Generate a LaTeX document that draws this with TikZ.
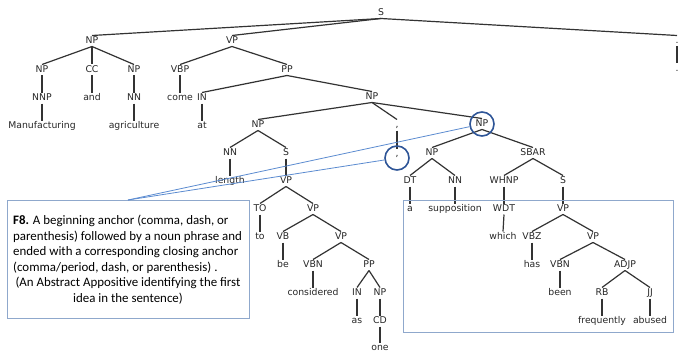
\documentclass[tikz,border=0pt]{standalone}
\usepackage{fontspec}
\setmainfont{Carlito}
\newfontfamily\treefont{DejaVu Sans}
\definecolor{edgegrey}{HTML}{333333}
\definecolor{circblue}{HTML}{2E5597}
\definecolor{lineblue}{HTML}{5B8BD0}
\definecolor{boxblue}{HTML}{8FA8CC}
\begin{document}
\begin{tikzpicture}[x=1pt,y=-1pt,
  tl/.style={font=\treefont\fontsize{9.3pt}{10pt}\selectfont, inner sep=0.8pt, text height=7pt, text depth=2pt, text=black!85},
  tedge/.style={draw=edgegrey, line width=1.2pt},
  hl/.style={draw=circblue, line width=1.6pt, circle, minimum size=24pt, inner sep=0pt},
  hlline/.style={draw=lineblue, line width=0.8pt},
  fbox/.style={draw=boxblue, line width=0.9pt, inner sep=0pt}]
\useasboundingbox (0,0) rectangle (680,353);
% tree labels
\node[tl] (S) at (381,13) {S};
\node[tl] (NP1) at (92,41) {NP};
\node[tl] (VP1) at (232,41) {VP};
\node[tl] (dotL) at (677,41) {.};
\node[tl] (dotW) at (677,69) {.};
\node[tl] (NP2) at (42,70) {NP};
\node[tl] (CC) at (92,70) {CC};
\node[tl] (NP3) at (134,70) {NP};
\node[tl] (NNP) at (42,98) {NNP};
\node[tl] (wManu) at (42,126) {Manufacturing};
\node[tl] (wand) at (92,98) {and};
\node[tl] (NN1) at (134,98) {NN};
\node[tl] (wagri) at (134,126) {agriculture};
\node[tl] (VBP) at (180,70) {VBP};
\node[tl] (wcome) at (180,98) {come};
\node[tl] (PP1) at (287,70) {PP};
\node[tl] (IN1) at (202,98) {IN};
\node[tl] (wat) at (202,126) {at};
\node[tl] (NP4) at (372,97) {NP};
\node[tl] (NP5) at (258,125) {NP};
\node[tl] (commaL) at (397,125) {,};
\node[tl] (NP6) at (482,124) {NP};
\node[tl] (commaW) at (397,154) {,};
\node[tl] (NN2) at (230,153) {NN};
\node[tl] (wlength) at (230,181) {length};
\node[tl] (S2) at (286,153) {S};
\node[tl] (VP2) at (286,181) {VP};
\node[tl] (TO) at (260,209) {TO};
\node[tl] (wto) at (260,237) {to};
\node[tl] (VP3) at (313,209) {VP};
\node[tl] (VB) at (283,237) {VB};
\node[tl] (wbe) at (283,265) {be};
\node[tl] (VP4) at (341,237) {VP};
\node[tl] (VBN1) at (313,265) {VBN};
\node[tl] (wcons) at (313,293) {considered};
\node[tl] (PP2) at (369,265) {PP};
\node[tl] (IN2) at (357,293) {IN};
\node[tl] (was) at (357,321) {as};
\node[tl] (NP7) at (380,293) {NP};
\node[tl] (CD) at (380,321) {CD};
\node[tl] (wone) at (380,348) {one};
\node[tl] (NP8) at (432,153) {NP};
\node[tl] (DT) at (410,181) {DT};
\node[tl] (wa) at (410,209) {a};
\node[tl] (NN3) at (455,181) {NN};
\node[tl] (wsupp) at (455,209) {supposition};
\node[tl] (SBAR) at (533,153) {SBAR};
\node[tl] (WHNP) at (504,181) {WHNP};
\node[tl] (WDT) at (504,209) {WDT};
\node[tl] (wwhich) at (503,237) {which};
\node[tl] (S3) at (563,181) {S};
\node[tl] (VP5) at (563,209) {VP};
\node[tl] (VBZ) at (532,237) {VBZ};
\node[tl] (whas) at (532,265) {has};
\node[tl] (VP6) at (593,237) {VP};
\node[tl] (VBN2) at (560,265) {VBN};
\node[tl] (wbeen) at (560,293) {been};
\node[tl] (ADJP) at (625,265) {ADJP};
\node[tl] (RB) at (602,293) {RB};
\node[tl] (wfreq) at (602,321) {frequently};
\node[tl] (JJ) at (650,293) {JJ};
\node[tl] (wabused) at (650,321) {abused};
% tree edges
\foreach \a/\b in {S/NP1,S/VP1,S/dotL,dotL/dotW,NP1/NP2,NP1/CC,NP1/NP3,NP2/NNP,NNP/wManu,CC/wand,
  NP3/NN1,NN1/wagri,VP1/VBP,VBP/wcome,VP1/PP1,PP1/IN1,IN1/wat,PP1/NP4,NP4/NP5,NP4/commaL,NP4/NP6,
  commaL/commaW,NP5/NN2,NN2/wlength,NP5/S2,S2/VP2,VP2/TO,TO/wto,VP2/VP3,VP3/VB,VB/wbe,VP3/VP4,
  VP4/VBN1,VBN1/wcons,VP4/PP2,PP2/IN2,IN2/was,PP2/NP7,NP7/CD,CD/wone,NP6/NP8,NP8/DT,DT/wa,NP8/NN3,
  NN3/wsupp,NP6/SBAR,SBAR/WHNP,WHNP/WDT,WDT/wwhich,SBAR/S3,S3/VP5,VP5/VBZ,VBZ/whas,VP5/VP6,
  VP6/VBN2,VBN2/wbeen,VP6/ADJP,ADJP/RB,RB/wfreq,ADJP/JJ,JJ/wabused}
  \draw[tedge] (\a.south) -- (\b.north);
% highlight circles
\node[hl] (c1) at (482,124) {};
\node[hl] (c2) at (397,158) {};
% boxes
\node[fbox, minimum width=242pt, minimum height=118pt] (box1) at (128,259) {};
\node[fbox, minimum width=270pt, minimum height=132pt] (box2) at (538,266) {};
\coordinate (anc) at (128,200);
\draw[hlline] (anc) -- (c1);
\draw[hlline] (anc) -- (c2);
% box text
\node[anchor=north west, inner sep=0pt, align=left, font=\fontsize{12.9pt}{15.6pt}\selectfont] (t1) at (13,215)
  {\textbf{F8.} A beginning anchor (comma, dash, or\\ parenthesis) followed by a noun phrase and\\ ended with a corresponding closing anchor\\ (comma/period, dash, or parenthesis) .};
\node[anchor=north, inner sep=0pt, align=center, font=\fontsize{12.9pt}{15.6pt}\selectfont] (t2) at (128,277)
  {(An Abstract Appositive identifying the first\\ idea in the sentence)};
\end{tikzpicture}
\end{document}
